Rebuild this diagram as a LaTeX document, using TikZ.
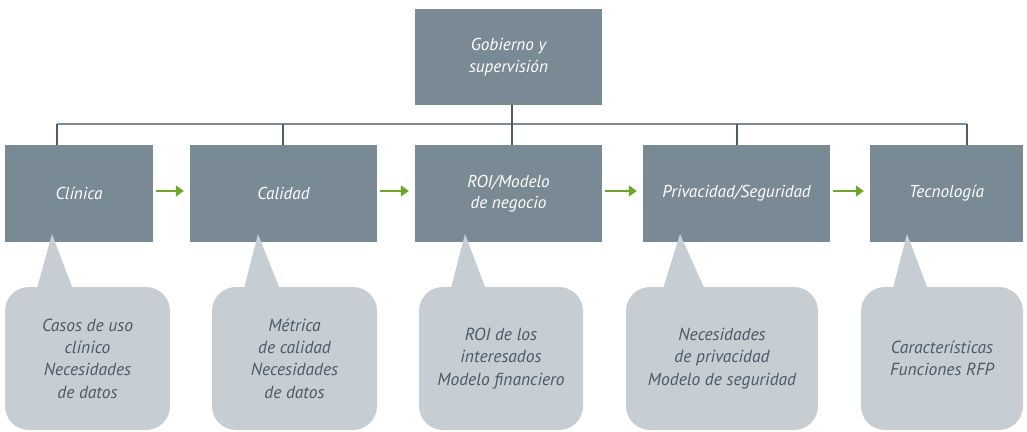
\documentclass[tikz,border=0pt]{standalone}
\usepackage{fontspec}
\setmainfont{PT Sans}
\usetikzlibrary{arrows.meta}
\definecolor{boxgray}{HTML}{7A8A94}
\definecolor{callgray}{HTML}{C6CDD3}
\definecolor{calltext}{HTML}{4A5A68}
\definecolor{busgray}{HTML}{7B8B95}
\definecolor{dropgray}{HTML}{4B5D6B}
\definecolor{flowgreen}{HTML}{6FA52B}
\tikzset{
  area/.style={fill=boxgray, text=white, minimum height=97pt, inner sep=2pt, align=center,
    font=\fontsize{17.2}{21.5}\selectfont\itshape},
  callout/.style={fill=callgray, text=calltext, rounded corners=24pt, minimum height=143pt,
    inner sep=2pt, align=center, font=\fontsize{17.5}{22.3}\selectfont\itshape},
  bus/.style={draw=busgray, line width=1.4pt},
  drop/.style={draw=dropgray, line width=1.2pt},
  flow/.style={draw=flowgreen, line width=1.4pt, -{Triangle[length=8pt,width=11pt]}}
}
\begin{document}
\begin{tikzpicture}[x=1pt, y=-1pt]
\useasboundingbox (0,0) rectangle (1027,431);
\node[area, minimum width=187pt, minimum height=96pt] (gob) at (508.5,57) {Gobierno y\\supervisión};
\node[area, minimum width=148pt] (cli) at (79,193.5) {Clínica};
\node[area, minimum width=187pt] (cal) at (283.5,193.5) {Calidad};
\node[area, minimum width=187pt] (roi) at (508.5,193.5) {ROI/Modelo\\de negocio};
\node[area, minimum width=187pt] (pri) at (736.5,193.5) {Privacidad/Seguridad};
\node[area, minimum width=153pt] (tec) at (946.5,193.5) {Tecnología};
\coordinate (b1) at (57,124);
\coordinate (b2) at (283,124);
\coordinate (b3) at (512,124);
\coordinate (b4) at (737,124);
\coordinate (b5) at (967,124);
\draw[bus] (b1) -- (b5);
\draw[drop] (gob.south -| b3) -- (b3);
\foreach \b/\n in {b1/cli, b2/cal, b3/roi, b4/pri, b5/tec}
  \draw[drop] (\b) -- (\b |- \n.north);
\foreach \a/\b in {cli/cal, cal/roi, roi/pri, pri/tec}
  \draw[flow] ([xshift=3pt, yshift=2.5pt]\a.east) -- ([xshift=-6pt, yshift=2.5pt]\b.west);
\foreach \t/\l/\r in {52/36/74, 258/243/281, 465/450/487, 680/662/706, 907/892/929}
  \fill[callgray] (\t,234) -- (\l,292) -- (\r,292) -- cycle;
\node[callout, minimum width=165pt] (cnote) at (87.5,358.5) {Casos de uso\\clínico\\Necesidades\\de datos};
\node[callout, minimum width=165pt] (qnote) at (294.5,358.5) {Métrica\\de calidad\\Necesidades\\de datos};
\node[callout, minimum width=164pt] (rnote) at (501,358.5) {ROI de los\\interesados\\Modelo financiero};
\node[callout, minimum width=192pt] (pnote) at (722,358.5) {Necesidades\\de privacidad\\Modelo de seguridad};
\node[callout, minimum width=162pt] (tnote) at (942,358.5) {Características\\Funciones RFP};
\end{tikzpicture}
\end{document}
